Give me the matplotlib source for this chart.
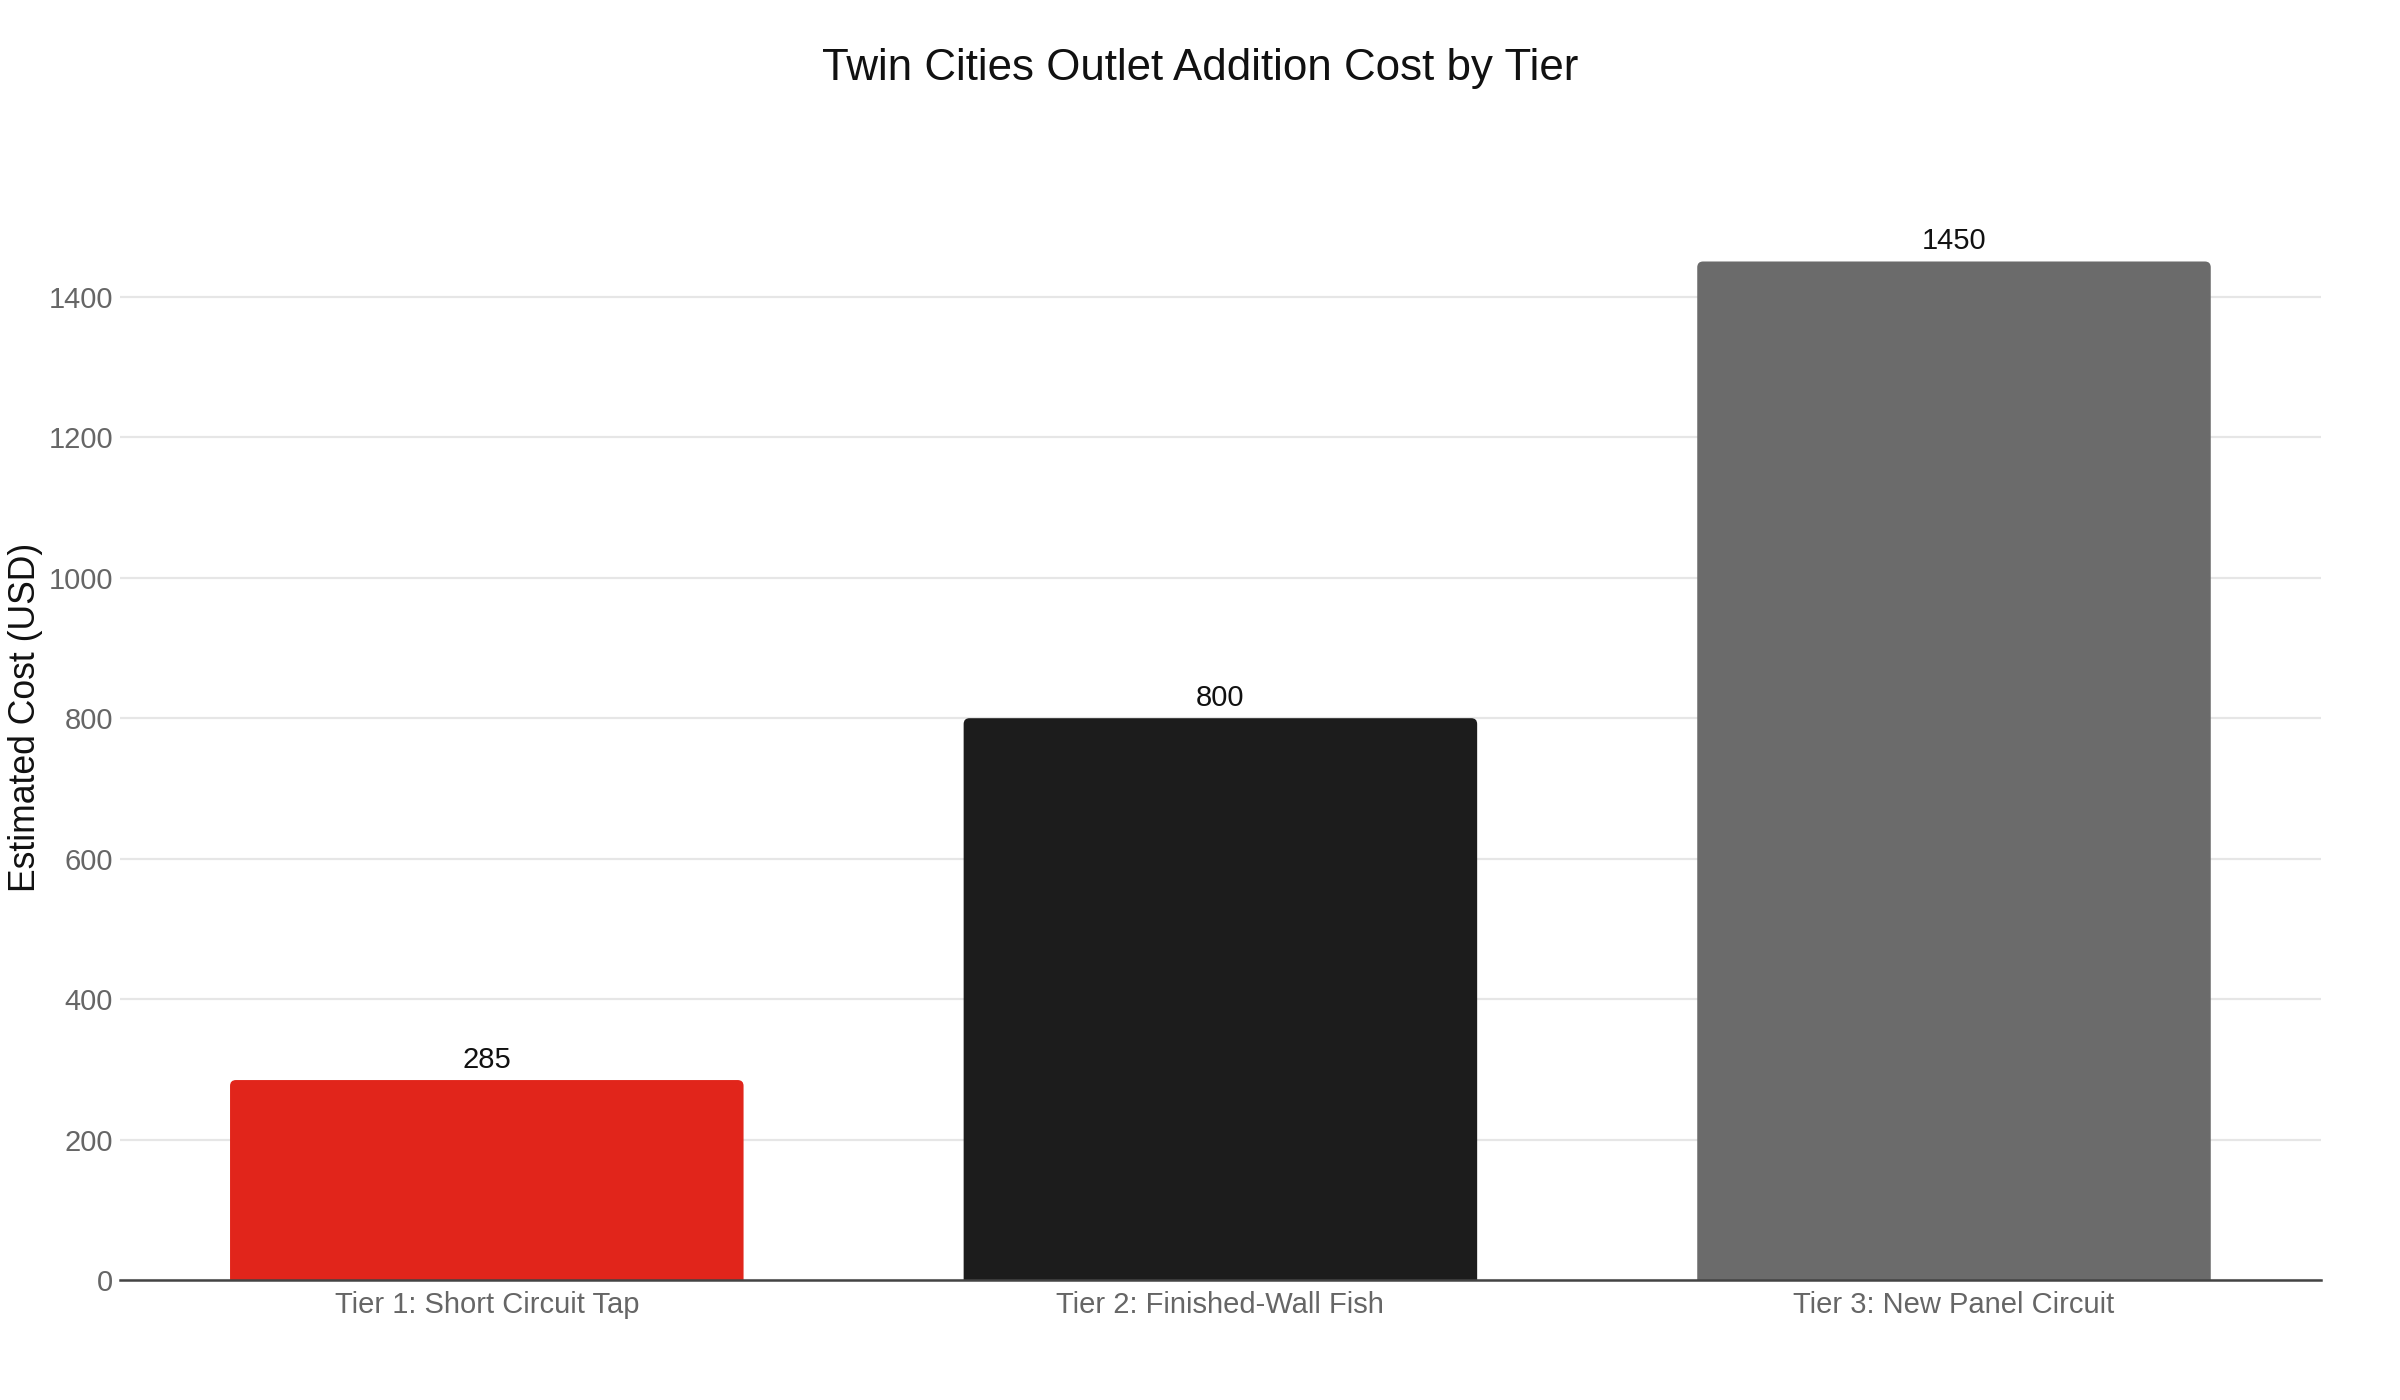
import matplotlib.pyplot as plt
from matplotlib.patches import FancyBboxPatch

plt.rcParams['font.family'] = ['Liberation Sans', 'DejaVu Sans']

# data
tiers = ['Tier 1: Short Circuit Tap', 'Tier 2: Finished-Wall Fish', 'Tier 3: New Panel Circuit']
costs = [285, 800, 1450]
colors = ['#E1251B', '#1C1C1C', '#6B6B6B']

AX_W, AX_H = 0.917, 0.766
fig = plt.figure(figsize=(12, 7), dpi=200)
ax = fig.add_axes([0.050, 0.0855, AX_W, AX_H])

ymax = max(costs) * 1.0526
ax.set_xlim(-0.5, len(tiers) - 0.5)
ax.set_ylim(0, ymax)

bars = ax.bar(range(len(tiers)), costs, width=0.7, color=colors, zorder=2)

# swap the plain bars for ones with slightly rounded top corners
w_px = fig.get_figwidth() * fig.dpi * AX_W
h_px = fig.get_figheight() * fig.dpi * AX_H
aspect = (ymax / h_px) / (len(tiers) / w_px)
for b in bars:
    x, w, h = b.get_x(), b.get_width(), b.get_height()
    p = FancyBboxPatch((x, -ymax * 0.05), w, h + ymax * 0.05,
                       boxstyle='round,pad=0,rounding_size=0.008',
                       mutation_aspect=aspect, facecolor=b.get_facecolor(),
                       edgecolor='none', zorder=2)
    ax.add_patch(p)
    b.remove()
    ax.text(x + w / 2, h + ymax * 0.006, f'{h:g}', ha='center', va='bottom',
            fontsize=10.5, color='#111111')

ax.set_yticks(range(0, 1401, 200))
ax.grid(axis='y', color='#E6E6E6', linewidth=0.8, zorder=0)
ax.set_axisbelow(True)
for s in ['top', 'right', 'left']:
    ax.spines[s].set_visible(False)
ax.spines['bottom'].set_color('#444444')
ax.spines['bottom'].set_linewidth(0.9)
ax.spines['bottom'].set_zorder(3)

ax.set_xticks(range(len(tiers)))
ax.set_xticklabels(tiers)
ax.tick_params(axis='both', length=0, labelsize=10.5, labelcolor='#666666')
ax.tick_params(axis='x', pad=4)
ax.tick_params(axis='y', pad=2.5)

ax.set_ylabel('Estimated Cost (USD)', fontsize=12.8, color='#111111')
ax.yaxis.set_label_coords(-0.035, 0.525)

fig.text(0.5, 0.951, 'Twin Cities Outlet Addition Cost by Tier', ha='center', va='center',
         fontsize=15.8, color='#111111')

fig.savefig('out.png', dpi=200, facecolor='white')
